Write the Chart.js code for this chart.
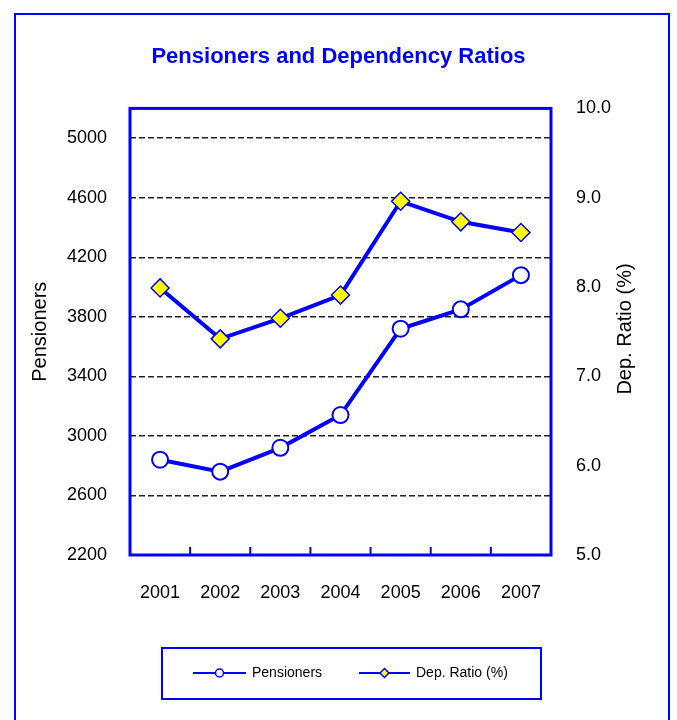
<!DOCTYPE html>
<html>
<head>
<meta charset="utf-8">
<script src="https://cdn.jsdelivr.net/npm/chart.js@4.4.1/dist/chart.umd.min.js"></script>
<style>
	html, body { margin: 0; padding: 0; background: #fff; }
	#wrap { width: 677px; height: 720px; position: relative; }
</style>
</head>
<body>
<div id="wrap"><canvas id="Chart" width="677" height="720"></canvas></div>
<script>
/* data */
const years = ['2001', '2002', '2003', '2004', '2005', '2006', '2007']
const pensioners = [2840, 2760, 2920, 3140, 3720, 3850, 4080]
const depRatio = [7.99, 7.42, 7.65, 7.91, 8.96, 8.73, 8.61]
const pensionerTicks = [2200, 2600, 3000, 3400, 3800, 4200, 4600, 5000]
const ratioTicks = [5, 6, 7, 8, 9, 10]

const blue = '#0000FF'
const fontFam = '"Liberation Sans Narrow", "Arial Narrow", "Liberation Sans", Arial, sans-serif'

/* frame, plot border, tick marks, right title and legend */
const extras = {
	id: 'extras',
	beforeDatasetsDraw(chart) {
		const { ctx, chartArea: a } = chart
		ctx.save()
		ctx.strokeStyle = blue
		ctx.lineWidth = 3
		ctx.strokeRect(a.left, a.top, a.right - a.left, a.bottom - a.top)
		// small ticks between categories, pointing up
		const x = chart.scales.x
		ctx.lineWidth = 2
		for (let i = 1; i < years.length; i++) {
			const px = (x.getPixelForTick(i - 1) + x.getPixelForTick(i)) / 2
			ctx.beginPath()
			ctx.moveTo(px, a.bottom)
			ctx.lineTo(px, a.bottom - 8)
			ctx.stroke()
		}
		ctx.restore()
	},
	afterDraw(chart) {
		const { ctx } = chart
		ctx.save()
		// outer frame
		ctx.strokeStyle = blue
		ctx.lineWidth = 2
		ctx.beginPath()
		ctx.moveTo(15, 722)
		ctx.lineTo(15, 14)
		ctx.lineTo(669, 14)
		ctx.lineTo(669, 722)
		ctx.stroke()

		// right axis title
		ctx.fillStyle = '#000'
		ctx.font = '20px ' + fontFam
		ctx.textAlign = 'center'
		ctx.textBaseline = 'middle'
		ctx.translate(625, 329)
		ctx.rotate(-Math.PI / 2)
		ctx.fillText('Dep. Ratio (%)', 0, 0)
		ctx.restore()

		// legend
		ctx.save()
		ctx.strokeStyle = blue
		ctx.lineWidth = 2
		ctx.strokeRect(162, 648, 379, 51)
		const ly = 673
		const items = [
			{ x0: 193, x1: 246, label: 'Pensioners', style: 'circle' },
			{ x0: 359, x1: 410, label: 'Dep. Ratio (%)', style: 'diamond' }
		]
		items.forEach((it) => {
			ctx.strokeStyle = blue
			ctx.lineWidth = 2
			ctx.beginPath()
			ctx.moveTo(it.x0, ly)
			ctx.lineTo(it.x1, ly)
			ctx.stroke()
			const cx = (it.x0 + it.x1) / 2
			ctx.beginPath()
			if (it.style === 'circle') {
				ctx.arc(cx, ly, 4, 0, Math.PI * 2)
				ctx.fillStyle = '#fff'
			} else {
				ctx.moveTo(cx, ly - 4.5)
				ctx.lineTo(cx + 4.5, ly)
				ctx.lineTo(cx, ly + 4.5)
				ctx.lineTo(cx - 4.5, ly)
				ctx.closePath()
				ctx.fillStyle = '#FFFF00'
			}
			ctx.fill()
			ctx.lineWidth = 1.5
			ctx.stroke()
			ctx.fillStyle = '#000'
			ctx.font = '14px ' + fontFam
			ctx.textAlign = 'left'
			ctx.textBaseline = 'middle'
			ctx.fillText(it.label, it.x1 + 6, ly)
		})
		ctx.restore()
	}
}

new Chart('Chart', {
	type: 'line',
	data: {
		labels: years,
		datasets: [
			{
				label: 'Pensioners',
				data: pensioners,
				yAxisID: 'y',
				borderColor: blue,
				borderWidth: 4,
				pointStyle: 'circle',
				pointRadius: 8,
				pointBackgroundColor: '#fff',
				pointBorderColor: blue,
				pointBorderWidth: 2,
				tension: 0
			},
			{
				label: 'Dep. Ratio (%)',
				data: depRatio,
				yAxisID: 'y1',
				borderColor: blue,
				borderWidth: 4,
				pointStyle: 'rectRot',
				pointRadius: 9,
				pointBackgroundColor: '#FFFF00',
				pointBorderColor: blue,
				pointBorderWidth: 1.5,
				tension: 0
			}
		]
	},
	options: {
		responsive: false,
		animation: false,
		layout: { padding: { left: 0, right: 0, top: 0, bottom: 105 } },
		plugins: {
			legend: { display: false },
			tooltip: { enabled: false },
			title: {
				display: true,
				text: 'Pensioners and Dependency Ratios',
				color: blue,
				font: { family: fontFam, size: 22, weight: 'bold', lineHeight: 1.2 },
				padding: { top: 44, bottom: 38 }
			}
		},
		scales: {
			x: {
				offset: true,
				grid: { display: false, drawTicks: false },
				border: { display: false },
				ticks: { color: '#000', font: { family: fontFam, size: 18 }, padding: 27, maxRotation: 0 },
				afterFit(s) { s.height = 60 }
			},
			y: {
				position: 'left',
				min: 2200,
				max: 5200,
				afterBuildTicks(s) { s.ticks = pensionerTicks.map((v) => ({ value: v })) },
				ticks: { color: '#000', font: { family: fontFam, size: 18 }, padding: 23, callback: (v) => String(v) },
				grid: {
					drawTicks: false,
					color: (c) => (c.tick && c.tick.value === 2200 ? 'rgba(0,0,0,0)' : '#222'),
					lineWidth: 1.5
				},
				border: { display: false, dash: [6, 3] },
				title: {
					display: true,
					text: 'Pensioners',
					color: '#000',
					font: { family: fontFam, size: 20 },
					padding: { top: 28, bottom: 0 }
				},
				afterFit(s) { s.width = 130 }
			},
			y1: {
				position: 'right',
				min: 5,
				max: 10,
				afterBuildTicks(s) { s.ticks = ratioTicks.map((v) => ({ value: v })) },
				ticks: {
					color: '#000',
					font: { family: fontFam, size: 18 },
					padding: 25,
					callback: (v) => Number(v).toFixed(1)
				},
				grid: { drawOnChartArea: false, drawTicks: false },
				border: { display: false },
				afterFit(s) { s.width = 126 }
			}
		}
	},
	plugins: [extras]
})
</script>
</body>
</html>
